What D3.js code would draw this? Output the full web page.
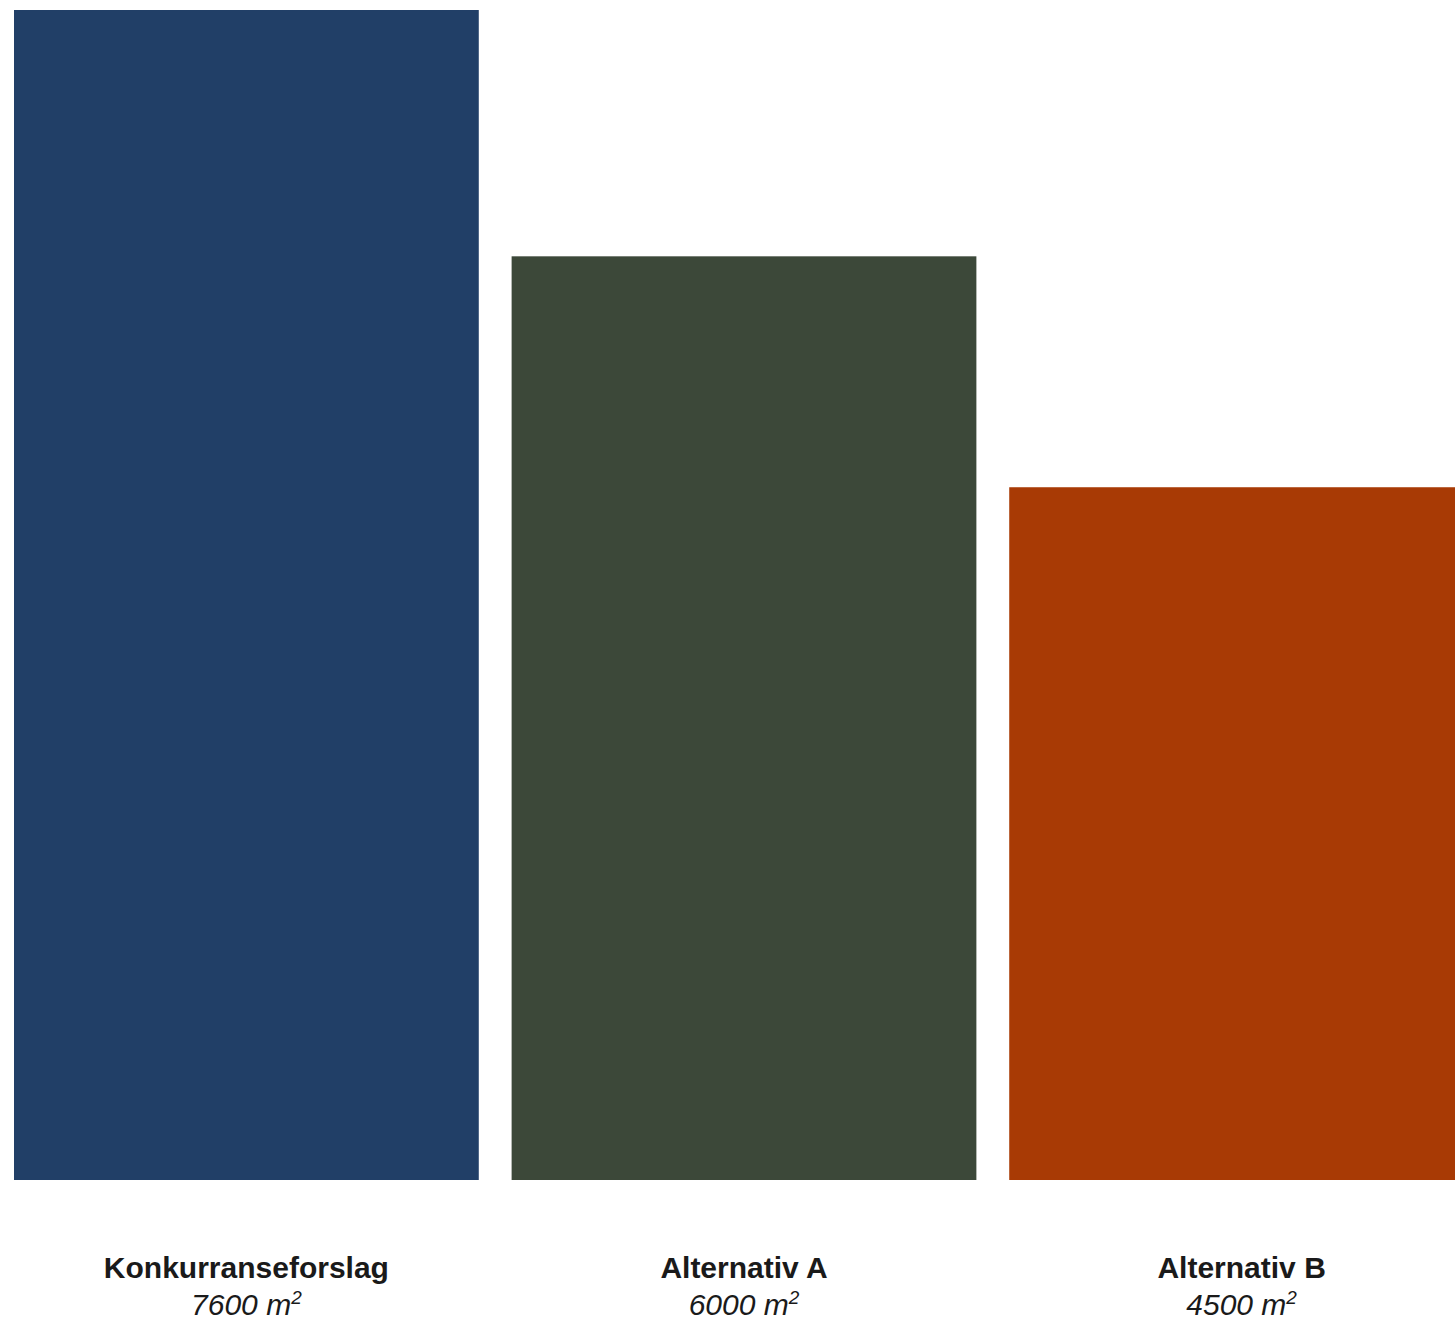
<!DOCTYPE html>
<html>
<head>
<meta charset="utf-8">
<script src="https://cdn.jsdelivr.net/npm/d3@7"></script>
<style>
  html, body { margin: 0; padding: 0; background: #ffffff; overflow: hidden; }
  svg { display: block; }
</style>
</head>
<body>
<svg id="chart" width="1455" height="1322"></svg>
<script>
const categories = ["Konkurranseforslag", "Alternativ A", "Alternativ B"];
const values = [7600, 6000, 4500];
const valueLabels = ["7600", "6000", "4500"];
const unitLabel = "m";
const unitSup = "2";
const colors = ["#213f67", "#3c4839", "#a83a05"];

const svg = d3.select("#chart");

const x = d3.scaleBand()
  .domain(categories)
  .range([14, 1474])
  .paddingInner(0.066)
  .paddingOuter(0);

const y = d3.scaleLinear()
  .domain([0, d3.max(values)])
  .range([1180, 10]);

const data = categories.map((c, i) => ({ cat: c, value: values[i], label: valueLabels[i], color: colors[i] }));

svg.selectAll("rect.bar")
  .data(data)
  .join("rect")
  .attr("class", "bar")
  .attr("x", d => x(d.cat))
  .attr("y", d => y(d.value))
  .attr("width", x.bandwidth())
  .attr("height", d => y(0) - y(d.value))
  .attr("fill", d => d.color);

const labels = svg.selectAll("g.lbl")
  .data(data)
  .join("g")
  .attr("class", "lbl")
  .attr("transform", d => `translate(${x(d.cat) + x.bandwidth() / 2},0)`);

labels.append("text")
  .attr("y", 1278)
  .attr("text-anchor", "middle")
  .attr("font-family", "'Liberation Sans', Arial, Helvetica, sans-serif")
  .attr("font-weight", "bold")
  .attr("font-size", 30)
  .attr("fill", "#1a1a1a")
  .text(d => d.cat);

const vt = labels.append("text")
  .attr("y", 1315)
  .attr("text-anchor", "middle")
  .attr("font-family", "'Liberation Sans', Arial, Helvetica, sans-serif")
  .attr("font-style", "italic")
  .attr("font-size", 30)
  .attr("fill", "#1a1a1a");
vt.append("tspan").text(d => d.label + " " + unitLabel);
vt.append("tspan")
  .attr("font-size", 19)
  .attr("dy", -11)
  .text(unitSup);
</script>
</body>
</html>
